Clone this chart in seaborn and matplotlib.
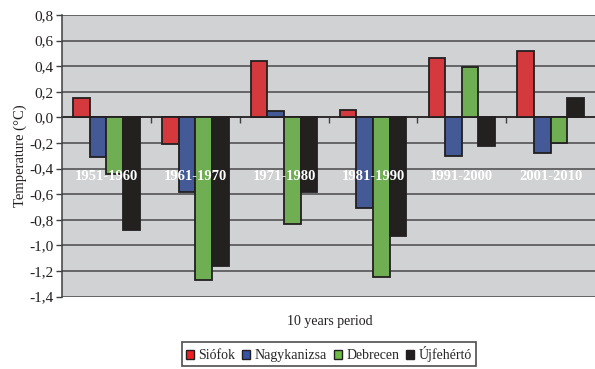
import matplotlib
matplotlib.use("Agg")
import matplotlib.pyplot as plt
import seaborn as sns
import pandas as pd
from matplotlib.patches import Patch
from matplotlib.ticker import FixedLocator, FuncFormatter

periods = ["1951-1960", "1961-1970", "1971-1980", "1981-1990", "1991-2000", "2001-2010"]
stations = ["Siófok", "Nagykanizsa", "Debrecen", "Újfehértó"]

siofok = [0.15, -0.21, 0.44, 0.06, 0.46, 0.52]
nagykanizsa = [-0.31, -0.58, 0.05, -0.71, -0.30, -0.28]
debrecen = [-0.44, -1.27, -0.83, -1.25, 0.39, -0.20]
ujfeherto = [-0.88, -1.16, -0.58, -0.93, -0.22, 0.15]

colors = ["#EE2024", "#3653A4", "#6BBD45", "#231F20"]
y_ticks = [0.8, 0.6, 0.4, 0.2, 0.0, -0.2, -0.4, -0.6, -0.8, -1.0, -1.2, -1.4]
label_level = -0.46

series = [siofok, nagykanizsa, debrecen, ujfeherto]
df = pd.DataFrame({
    "period": [p for s in series for p in periods],
    "station": [st for st in stations for _ in periods],
    "value": [v for s in series for v in s],
})

sns.set_theme(style="white")
plt.rcParams["font.family"] = "serif"
plt.rcParams["font.serif"] = ["Liberation Serif", "DejaVu Serif"]
SERIF = "Liberation Serif"

fig = plt.figure(figsize=(5.95, 3.69), dpi=100)
ax = fig.add_axes([0.1042, 0.196, 0.896, 0.7635])
ax.set_facecolor("#D1D2D4")

sns.barplot(data=df, x="period", y="value", hue="station", order=periods,
            hue_order=stations, palette=colors, width=0.75, gap=0,
            edgecolor="#231F20", linewidth=1.3, errorbar=None, ax=ax,
            legend=False, zorder=3)

ax.set_ylim(-1.4, 0.8)
ax.set_xlim(-0.5, len(periods) - 0.5)
ax.yaxis.set_major_locator(FixedLocator(y_ticks))
ax.yaxis.set_major_formatter(FuncFormatter(lambda v, _: f"{v:.1f}".replace(".", ",").replace("-0,0", "0,0")))
ax.grid(axis="y", color="#48484A", linewidth=1.1, zorder=1)
ax.set_axisbelow(True)

for sp in ["top", "right"]:
    ax.spines[sp].set_visible(False)
ax.spines["left"].set_color("#3F3F41")
ax.spines["left"].set_linewidth(1.1)
ax.spines["bottom"].set_position(("data", 0))
ax.spines["bottom"].set_color("#231F20")
ax.spines["bottom"].set_linewidth(1.1)
ax.spines["bottom"].set_zorder(2)

ax.set_xticks([i + 0.5 for i in range(len(periods) - 1)])
ax.set_xticklabels([])
ax.tick_params(axis="x", direction="out", length=4, width=1, color="#3F3F41", bottom=True)
ax.tick_params(axis="y", direction="out", length=4, width=1, color="#3F3F41", left=True,
               labelsize=11, labelcolor="#231F20", pad=2)
for t in ax.get_yticklabels():
    t.set_fontfamily(SERIF)

for i, p in enumerate(periods):
    ax.text(i, label_level, p, color="white", fontweight="bold", fontsize=10.5,
            family=SERIF, ha="center", va="center", zorder=5)

ax.set_ylabel("Temperature (°C)", fontsize=10.5, color="#231F20", labelpad=2, family=SERIF)
ax.set_xlabel("")
fig.text(0.554, 0.128, "10 years period", ha="center", va="center", fontsize=10,
         color="#231F20", family=SERIF)

handles = [Patch(facecolor=c, edgecolor="#231F20", linewidth=1.0) for c in colors]
leg = fig.legend(handles, stations, loc="center", bbox_to_anchor=(0.553, 0.04), ncol=4,
                 frameon=True, fancybox=False, prop={"family": SERIF, "size": 10},
                 handlelength=0.55, handleheight=0.55, handletextpad=0.35, columnspacing=0.5,
                 borderpad=0.3, edgecolor="#231F20")
leg.get_frame().set_linewidth(1.2)

fig.savefig("out.png", dpi=100, facecolor="white")
